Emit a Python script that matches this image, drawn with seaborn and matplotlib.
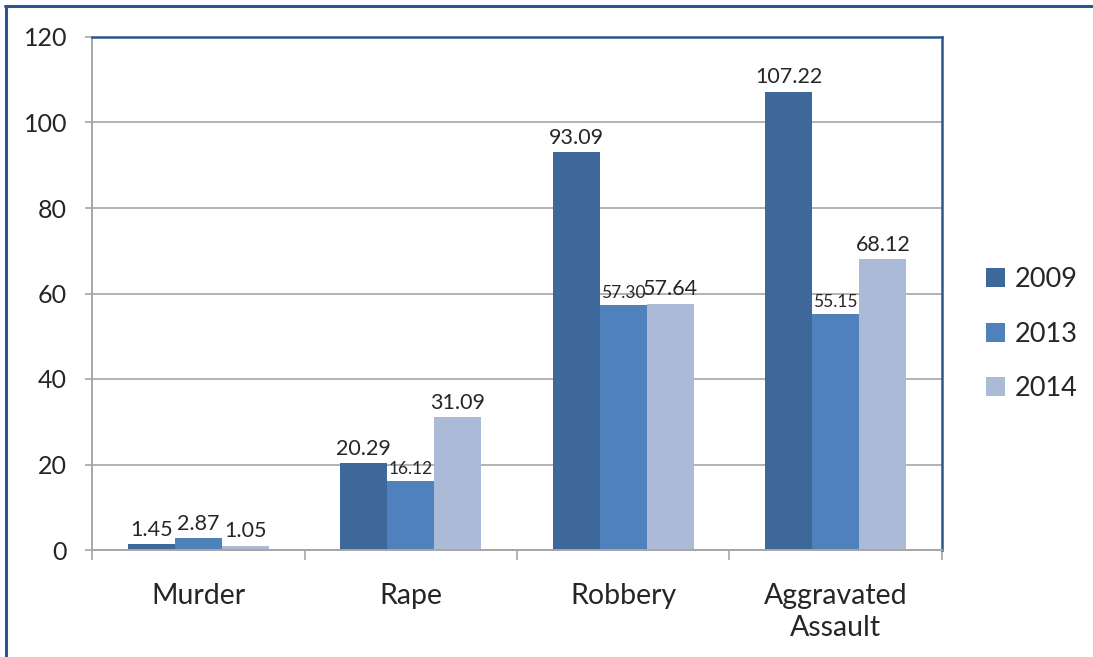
import matplotlib
matplotlib.use("Agg")
import matplotlib.pyplot as plt
from matplotlib.lines import Line2D
from matplotlib.patches import Patch
import numpy as np
import pandas as pd
import seaborn as sns

crimes = ["Murder", "Rape", "Robbery", "Aggravated\nAssault"]
years = ["2009", "2013", "2014"]
rate_2009 = [1.45, 20.29, 93.09, 107.22]
rate_2013 = [2.87, 16.12, 57.30, 55.15]
rate_2014 = [1.05, 31.09, 57.64, 68.12]
colors = ["#3E6899", "#4F81BD", "#AABAD7"]

d = pd.DataFrame({
    "crime": crimes * 3,
    "year": [y for y in years for _ in crimes],
    "rate": rate_2009 + rate_2013 + rate_2014,
})

sns.set_style("white")
plt.rcParams["font.family"] = ["Lato", "DejaVu Sans"]

fig = plt.figure(figsize=(10.93, 6.57), dpi=100)
ax = fig.add_axes([92 / 1093, 1 - 550 / 657, 850 / 1093, 513 / 657])

sns.barplot(data=d, x="crime", y="rate", hue="year", palette=colors,
            width=0.664, ax=ax, legend=False, saturation=1, edgecolor="none")

ax.set_ylim(0, 120)
ax.set_xlim(-0.5, 3.5)
ax.set_yticks(np.arange(0, 121, 20))
ax.yaxis.grid(True, color="#A6A6A6", lw=1.2)
ax.set_axisbelow(True)
ax.set_xlabel("")
ax.set_ylabel("")

ax.tick_params(axis="y", labelsize=18, length=5, width=1.2, color="#A6A6A6",
               labelcolor="#262626", pad=13, left=True)
ax.tick_params(axis="x", which="major", labelsize=20.5, length=0,
               labelcolor="#262626", pad=24)
ax.set_xticks(np.arange(-0.5, 3.6, 1), minor=True)
ax.tick_params(axis="x", which="minor", length=7, width=1.2, color="#A6A6A6",
               bottom=True)
for lbl in ax.get_xticklabels():
    lbl.set_linespacing(1.25)

for s in ["left", "bottom"]:
    ax.spines[s].set_color("#A6A6A6")
    ax.spines[s].set_linewidth(1.4)
for s in ["top", "right"]:
    ax.spines[s].set_color("#2F5591")
    ax.spines[s].set_linewidth(1.8)

small = {(1, 1), (2, 1), (3, 1)}
series = [rate_2009, rate_2013, rate_2014]
for j, cont in enumerate(ax.containers):
    for i, p in enumerate(cont.patches):
        v = series[j][i]
        fs = 12.5 if (i, j) in small else 15.5
        ax.annotate(f"{v:.2f}", (p.get_x() + p.get_width() / 2, p.get_height()),
                    xytext=(0, 3), textcoords="offset points", ha="center",
                    va="bottom", fontsize=fs, color="#262626")

handles = [Patch(facecolor=c, edgecolor="none") for c in colors]
fig.legend(handles, years, loc="center left", bbox_to_anchor=(962 / 1093, 1 - 334 / 657),
           frameon=False, fontsize=19.5, handlelength=0.7, handleheight=0.7,
           labelspacing=1.1, handletextpad=0.35, labelcolor="#262626")

# outer frame (top and left edges visible)
fig.add_artist(Line2D([5 / 1093, 1], [1 - 6 / 657, 1 - 6 / 657],
                      transform=fig.transFigure, color="#2F5591", lw=2.2))
fig.add_artist(Line2D([6 / 1093, 6 / 1093], [0, 1 - 6 / 657],
                      transform=fig.transFigure, color="#2F5591", lw=2.2))

fig.savefig("out.png", dpi=100)
